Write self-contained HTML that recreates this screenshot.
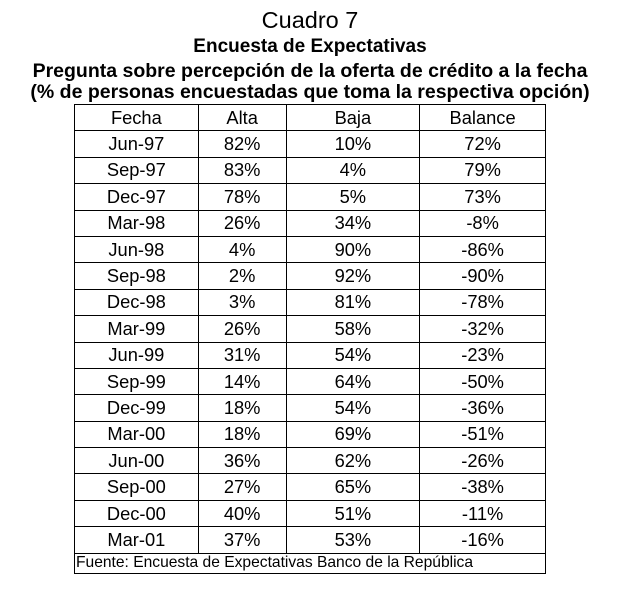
<!DOCTYPE html>
<html><head><meta charset="utf-8"><style>
body{margin:0;width:625px;height:603px;background:#fff;font-family:"Liberation Sans",Arial,sans-serif;color:#000;position:relative;overflow:hidden}
.t{position:absolute;left:0;width:620px;text-align:center;white-space:nowrap;line-height:1}
table{position:absolute;left:74px;top:104px;border-collapse:collapse;width:472px}
td{border:1px solid #000;text-align:center;font-size:18.3px;height:25.4px;padding:0;line-height:18px}
td.f{text-align:left;font-size:15.6px;height:19px;padding-left:1px;line-height:16px}
</style></head><body>
<div class="t" style="top:9px;font-size:23.5px">Cuadro 7</div>
<div class="t" style="top:37px;font-size:19px;font-weight:bold">Encuesta de Expectativas</div>
<div class="t" style="top:62px;font-size:19.5px;font-weight:bold">Pregunta sobre percepción de la oferta de crédito a la fecha</div>
<div class="t" style="top:83px;font-size:19.5px;font-weight:bold">(% de personas encuestadas que toma la respectiva opción)</div>
<table>
<colgroup><col style="width:124px"><col style="width:88px"><col style="width:134px"><col style="width:126px"></colgroup>
<tr><td>Fecha</td><td>Alta</td><td>Baja</td><td>Balance</td></tr>
<tr><td>Jun-97</td><td>82%</td><td>10%</td><td>72%</td></tr>
<tr><td>Sep-97</td><td>83%</td><td>4%</td><td>79%</td></tr>
<tr><td>Dec-97</td><td>78%</td><td>5%</td><td>73%</td></tr>
<tr><td>Mar-98</td><td>26%</td><td>34%</td><td>-8%</td></tr>
<tr><td>Jun-98</td><td>4%</td><td>90%</td><td>-86%</td></tr>
<tr><td>Sep-98</td><td>2%</td><td>92%</td><td>-90%</td></tr>
<tr><td>Dec-98</td><td>3%</td><td>81%</td><td>-78%</td></tr>
<tr><td>Mar-99</td><td>26%</td><td>58%</td><td>-32%</td></tr>
<tr><td>Jun-99</td><td>31%</td><td>54%</td><td>-23%</td></tr>
<tr><td>Sep-99</td><td>14%</td><td>64%</td><td>-50%</td></tr>
<tr><td>Dec-99</td><td>18%</td><td>54%</td><td>-36%</td></tr>
<tr><td>Mar-00</td><td>18%</td><td>69%</td><td>-51%</td></tr>
<tr><td>Jun-00</td><td>36%</td><td>62%</td><td>-26%</td></tr>
<tr><td>Sep-00</td><td>27%</td><td>65%</td><td>-38%</td></tr>
<tr><td>Dec-00</td><td>40%</td><td>51%</td><td>-11%</td></tr>
<tr><td>Mar-01</td><td>37%</td><td>53%</td><td>-16%</td></tr>
<tr><td class="f" colspan="4">Fuente: Encuesta de Expectativas Banco de la República</td></tr>
</table>
</body></html>
